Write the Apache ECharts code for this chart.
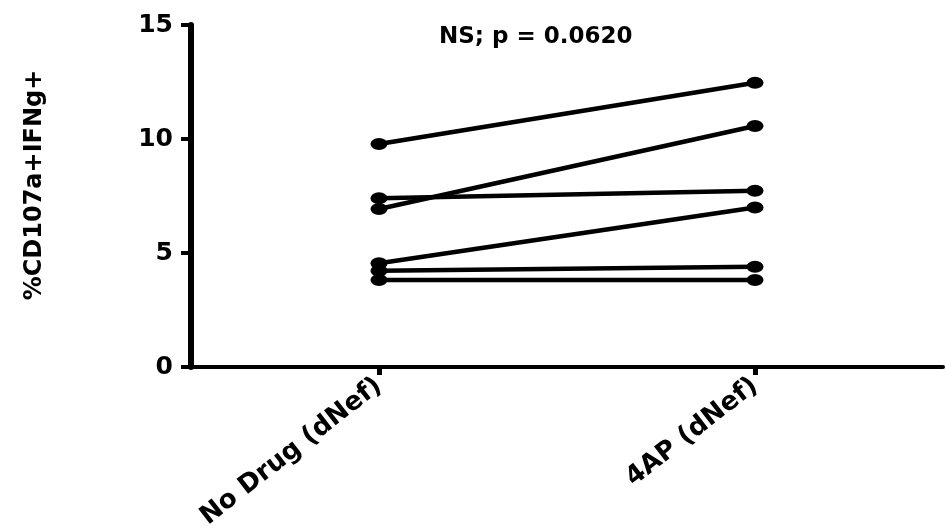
<!DOCTYPE html>
<html>
<head>
<meta charset="utf-8">
<script src="https://cdn.jsdelivr.net/npm/echarts@6/dist/echarts.min.js"></script>
<style>
html,body{margin:0;padding:0;background:#fff;}
#chart{width:946px;height:532px;}
</style>
</head>
<body>
<div id="chart"></div>
<script>
var categories = ['No Drug (dNef)', '4AP (dNef)'];
var noDrugValues = [9.78, 6.93, 7.40, 4.55, 4.22, 3.82];
var fourAPValues = [12.47, 10.57, 7.73, 7.00, 4.40, 3.82];
var yTicks = [0, 5, 10, 15];
var yAxisTitle = '%CD107a+IFNg+';
var annotation = 'NS; p = 0.0620';

var FONT = '"DejaVu Sans", "Liberation Sans", Arial, sans-serif';

var series = noDrugValues.map(function (v, i) {
  return {
    type: 'line',
    data: [v, fourAPValues[i]],
    symbol: 'circle',
    symbolSize: [17, 12],
    lineStyle: { color: '#000', width: 4.5 },
    itemStyle: { color: '#000' },
    z: 3
  };
});

var chart = echarts.init(document.getElementById('chart'));
chart.setOption({
  animation: false,
  backgroundColor: '#fff',
  title: {
    text: annotation,
    left: 434,
    top: 21,
    textStyle: { fontFamily: FONT, fontWeight: 'bold', fontSize: 23, color: '#000' }
  },
  grid: { left: 191, right: 3, top: 25, bottom: 165, containLabel: false },
  xAxis: {
    type: 'category',
    data: categories,
    boundaryGap: true,
    axisLine: { lineStyle: { color: '#000', width: 4 } },
    axisTick: { show: true, alignWithLabel: true, length: 8, lineStyle: { color: '#000', width: 5 } },
    axisLabel: { rotate: 38, margin: 16, color: '#000', fontFamily: FONT, fontWeight: 'bold', fontSize: 26 },
    splitLine: { show: false }
  },
  yAxis: {
    type: 'value',
    min: yTicks[0],
    max: yTicks[yTicks.length - 1],
    interval: yTicks[1] - yTicks[0],
    name: yAxisTitle,
    nameLocation: 'middle',
    nameRotate: 90,
    nameGap: 144,
    nameTextStyle: { color: '#000', fontFamily: FONT, fontWeight: 'bold', fontSize: 24, padding: [0, 0, 0, 22] },
    axisLine: { show: true, lineStyle: { color: '#000', width: 6 } },
    axisTick: { show: true, length: 10, lineStyle: { color: '#000', width: 4 } },
    axisLabel: { margin: 18, color: '#000', fontFamily: FONT, fontWeight: 'bold', fontSize: 25 },
    splitLine: { show: false }
  },
  series: series
});
</script>
</body>
</html>
